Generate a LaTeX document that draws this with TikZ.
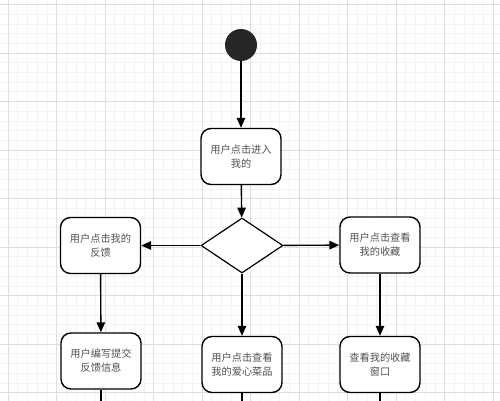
\documentclass[tikz,border=0pt]{standalone}
\usepackage{fontspec}
\setmainfont{Noto Sans CJK SC}
\usetikzlibrary{positioning,shapes.geometric,arrows.meta}
\definecolor{gridminor}{HTML}{F2F2F2}
\definecolor{gridmajor}{HTML}{DEDEDE}
\definecolor{txtgray}{HTML}{505050}
\definecolor{dotfill}{HTML}{262626}
\tikzset{
  actbox/.style={draw, line width=1.4pt, rounded corners=10pt, minimum width=80pt,
    minimum height=56pt, align=center, font=\fontsize{10.2}{14}\selectfont, text=txtgray, fill=white},
  choice/.style={draw, diamond, line width=1.2pt, minimum width=82pt, minimum height=55pt,
    inner sep=0pt, fill=white},
  flow/.style={line width=1.4pt, -{Triangle[length=10pt,width=8.5pt]}},
  tail/.style={line width=1.4pt}
}
\begin{document}
\begin{tikzpicture}[x=1pt,y=-1pt]
    \useasboundingbox (0,0) rectangle (500,401);
    \fill[white] (0,0) rectangle (500,401);
    %grid
    \foreach \i in {0,...,52}
      \draw[gridminor, line width=0.6pt] ({-1.7+9.7*\i},0) -- ({-1.7+9.7*\i},401);
    \foreach \i in {0,...,42}
      \draw[gridminor, line width=0.6pt] (0,{-5.2+9.7*\i}) -- (500,{-5.2+9.7*\i});
    \foreach \i in {0,...,10}
      \draw[gridmajor, line width=0.8pt] ({8+48.5*\i},0) -- ({8+48.5*\i},401);
    \foreach \i in {0,...,8}
      \draw[gridmajor, line width=0.8pt] (0,{4.5+48.5*\i}) -- (500,{4.5+48.5*\i});

    %nodes
    \node[circle, fill=dotfill, minimum size=32pt, inner sep=0pt] (start) at (241,45) {};
    \node[actbox] (enter) at (241,156.5) {用户点击进入\\我的};
    \node[choice] (pick) at (242,245.5) {};
    \node[actbox] (feedback) at (100.5,245.5) {用户点击我的\\反馈};
    \node[actbox] (collect) at (380,245) {用户点击查看\\我的收藏};
    \node[actbox] (write) at (101,361) {用户编写提交\\反馈信息};
    \node[actbox] (dishes) at (242,364.5) {用户点击查看\\我的爱心菜品};
    \node[actbox] (window) at (380,364.5) {查看我的收藏\\窗口};
    \coordinate (writeend) at (101,401);
    \coordinate (dishesend) at (242,401);
    \coordinate (windowend) at (380,401);

    %connectors
    \draw[flow] (start) -- (enter);
    \draw[flow] (enter) -- (pick);
    \draw[flow] (pick) -- (feedback);
    \draw[flow] (pick) -- (collect);
    \draw[flow] (pick) -- (dishes);
    \draw[flow] (feedback) -- (write);
    \draw[flow] (collect) -- (window);
    \draw[tail] (write) -- (writeend);
    \draw[tail] (dishes) -- (dishesend);
    \draw[tail] (window) -- (windowend);
\end{tikzpicture}
\end{document}
